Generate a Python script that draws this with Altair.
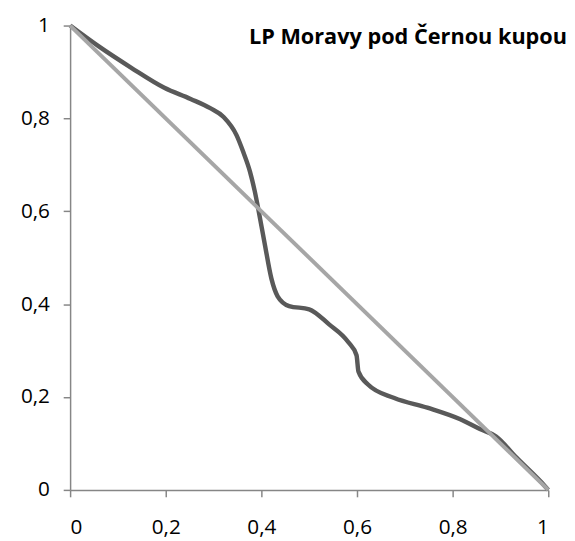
import altair as alt
import pandas as pd

# Curve
curve_x = [0, 0.06, 0.128, 0.197, 0.252, 0.293, 0.321, 0.348, 0.362, 0.376, 0.386, 0.393,
           0.407, 0.421, 0.434, 0.458, 0.5, 0.541, 0.582, 0.599, 0.603, 0.623, 0.678,
           0.747, 0.816, 0.857, 0.891, 0.933, 0.994, 1]
curve_y = [1, 0.955, 0.909, 0.866, 0.842, 0.822, 0.803, 0.764, 0.728, 0.686, 0.644, 0.608,
           0.53, 0.455, 0.417, 0.396, 0.389, 0.357, 0.318, 0.29, 0.255, 0.227, 0.198,
           0.177, 0.152, 0.131, 0.115, 0.07, 0.007, 0]
# Reference diagonal
diag_x = [0, 1]
diag_y = [1, 0]
ticks = [0, 0.2, 0.4, 0.6, 0.8, 1]
title_text = "LP Moravy pod Černou kupou"

curve_df = pd.DataFrame({"x": curve_x, "y": curve_y})
diag_df = pd.DataFrame({"x": diag_x, "y": diag_y})

label_expr = "replace(format(datum.value, '~g'), '.', ',')"
xscale = alt.Scale(domain=[0, 1], nice=False)
yscale = alt.Scale(domain=[0, 1], nice=False)
xaxis = alt.Axis(values=ticks, title=None, grid=False, labelExpr=label_expr,
                 labelPadding=20)
yaxis = alt.Axis(values=ticks, title=None, grid=False, labelExpr=label_expr,
                 labelPadding=14)

curve = alt.Chart(curve_df).mark_line(
    color="#595959", strokeWidth=4.5, interpolate="monotone"
).encode(
    x=alt.X("x:Q", scale=xscale, axis=xaxis),
    y=alt.Y("y:Q", scale=yscale, axis=yaxis),
)

diag = alt.Chart(diag_df).mark_line(color="#A6A6A6", strokeWidth=4).encode(
    x=alt.X("x:Q", scale=xscale),
    y=alt.Y("y:Q", scale=yscale),
)

chart = alt.layer(curve, diag).properties(
    width=485,
    height=471,
    background="white",
    autosize=alt.AutoSizeParams(type="none"),
    padding={"left": 63, "top": 14, "right": 19, "bottom": 46},
    title=alt.TitleParams(
        text=title_text, anchor="end", offset=-35, dx=10,
        font="Open Sans", fontSize=22, fontWeight="bold", color="#000000",
    ),
).configure_view(
    stroke=None
).configure_axis(
    domainColor="#868686", domainWidth=1.5, tickColor="#868686", tickWidth=1.5,
    tickSize=7, labelFont="Open Sans", labelFontSize=21, labelColor="#000000",
)

chart.save("out.html", embed_options={"renderer": "svg", "actions": False})
